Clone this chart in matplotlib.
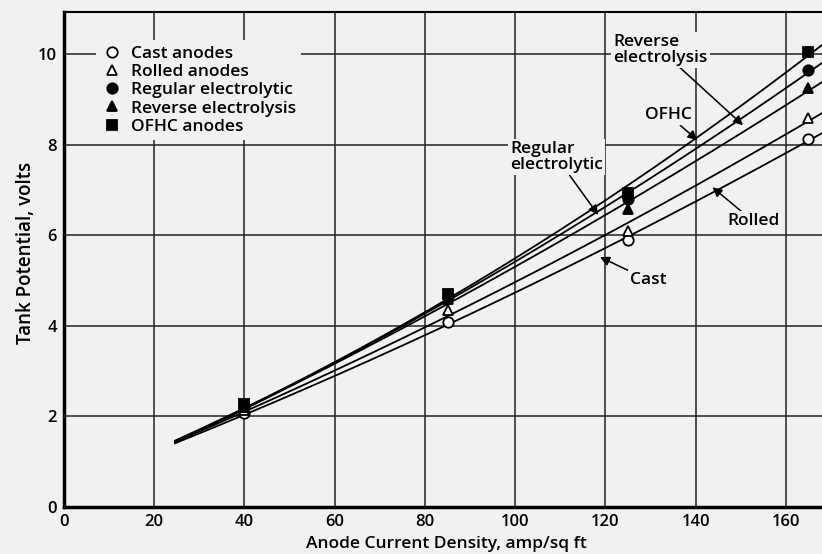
import numpy as np
import matplotlib
matplotlib.use('Agg')
import matplotlib.pyplot as plt

plt.rcParams['font.family'] = ['Open Sans', 'DejaVu Sans']
plt.rcParams['font.weight'] = 'semibold'

# marker positions (amp/sq ft)
x_pts = [40, 85, 125, 165]
# line start where the curves meet
x_start = 24.6
y_start = 1.37

cast = [2.07, 4.08, 5.89, 8.12]
rolled = [2.15, 4.35, 6.09, 8.59]
regular = [2.22, 4.65, 6.80, 9.65]
reverse = [2.20, 4.60, 6.58, 9.25]
ofhc = [2.28, 4.70, 6.93, 10.04]

labels = ['Cast anodes', 'Rolled anodes', 'Regular electrolytic',
          'Reverse electrolysis', 'OFHC anodes']
series = [cast, rolled, regular, reverse, ofhc]
markers = ['o', '^', 'o', '^', 's']
filled = [False, False, True, True, True]

bg = '#f1f1ef'
fs = 12.5

fig = plt.figure(figsize=(8.22, 5.54), dpi=100)
fig.patch.set_facecolor(bg)
ax = fig.add_axes([64/822, 47/554, 758/822, 495/554])
ax.set_facecolor(bg)

xs = np.array([x_start] + x_pts)
xx = np.linspace(x_start, 168, 200)
for ys, m, f, lab in zip(series, markers, filled, labels):
    yy = np.array([y_start] + ys)
    c = np.polyfit(xs, yy, 2)
    ax.plot(xx, np.polyval(c, xx), color='black', lw=1.3, zorder=3)
    ax.plot(x_pts, ys, ls='none', marker=m, ms=7.5,
            mfc='black' if f else 'white', mec='black', mew=1.3,
            label=lab, zorder=4)

ax.set_xlim(0, 168)
ax.set_ylim(0, 10.93)
ax.set_xticks(range(0, 161, 20))
ax.set_yticks(range(0, 11, 2))
ax.grid(True, color='#222222', lw=1.1, zorder=1)
ax.tick_params(length=0, labelsize=12, pad=5)
for lab in ax.get_xticklabels() + ax.get_yticklabels():
    lab.set_fontweight('semibold')

ax.spines['right'].set_visible(False)
ax.spines['left'].set_linewidth(2.5)
ax.spines['bottom'].set_linewidth(2.5)
ax.spines['top'].set_linewidth(1.5)

ax.set_xlabel('Anode Current Density, amp/sq ft', fontsize=fs, fontweight='semibold')
ax.xaxis.set_label_coords(0.505, -0.058)
ax.set_ylabel('Tank Potential, volts', fontsize=13.5, fontweight='semibold')
ax.yaxis.label.set_va('center')
ax.yaxis.set_label_coords(-0.05, 0.513)

leg = ax.legend(loc='upper left', bbox_to_anchor=(0.031, 0.96), frameon=True,
                facecolor=bg, edgecolor='none', framealpha=1, fontsize=fs,
                handletextpad=0.5, labelspacing=0.12, borderpad=0.3,
                handlelength=1.2)
for t in leg.get_texts():
    t.set_fontweight('semibold')
leg.set_zorder(5)

box = dict(facecolor=bg, edgecolor='none', pad=1.5)
arrow = dict(arrowstyle='-|>', color='black', lw=1.1, mutation_scale=14,
             shrinkA=0, shrinkB=0)
ax.annotate('Reverse\nelectrolysis', xy=(150.5, 8.43), xytext=(121.7, 10.1),
            fontsize=fs, fontweight='semibold', ha='left', va='center',
            linespacing=1.0, bbox=box, arrowprops=arrow, zorder=6)
ax.annotate('OFHC', xy=(140.4, 8.1), xytext=(128.8, 8.65),
            fontsize=fs, fontweight='semibold', ha='left', va='center',
            bbox=box, arrowprops=arrow, zorder=6)
ax.annotate('Regular\nelectrolytic', xy=(118.4, 6.45), xytext=(98.9, 7.72),
            fontsize=fs, fontweight='semibold', ha='left', va='center',
            linespacing=1.0, bbox=box, arrowprops=arrow, zorder=6)
ax.annotate('Rolled', xy=(143.7, 7.06), xytext=(147, 6.31),
            fontsize=fs, fontweight='semibold', ha='left', va='center',
            bbox=box, arrowprops=arrow, zorder=6)
ax.annotate('Cast', xy=(118.8, 5.52), xytext=(125.5, 5.01),
            fontsize=fs, fontweight='semibold', ha='left', va='center',
            bbox=box, arrowprops=arrow, zorder=6)

fig.savefig('out.png', dpi=100, facecolor=bg)
